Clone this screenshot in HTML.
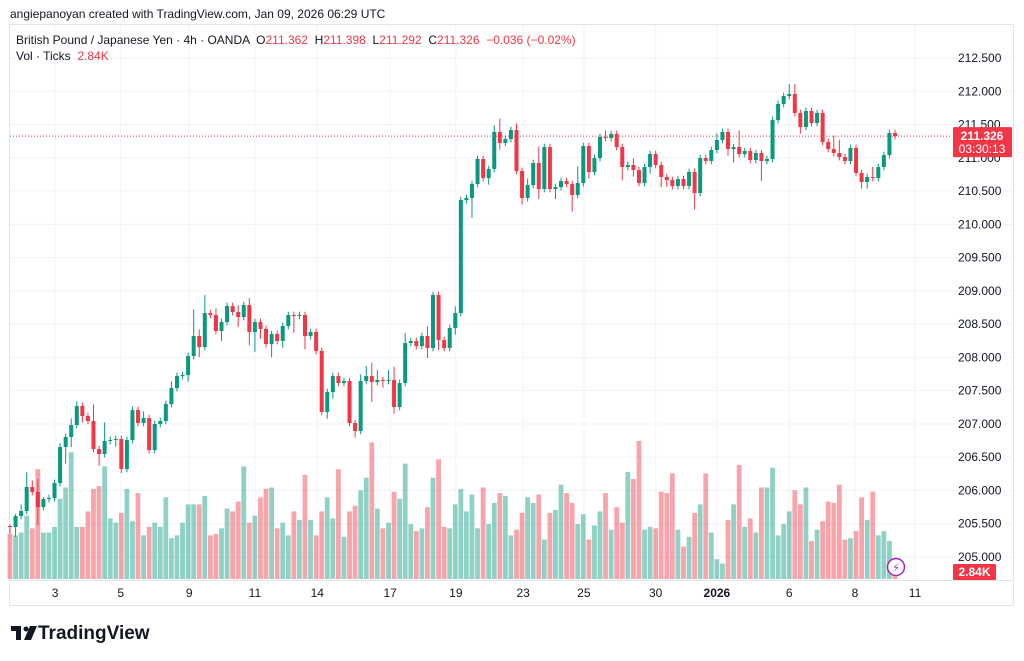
<!DOCTYPE html>
<html><head><meta charset="utf-8">
<style>
html,body{margin:0;padding:0;background:#fff;width:1024px;height:661px;overflow:hidden;font-family:"Liberation Sans",sans-serif;}
#wrap{position:relative;width:1024px;height:661px;}
.t{position:absolute;white-space:nowrap;font-size:12px;color:#131722;}
.r{color:#f23645;}
</style></head><body>
<div id="wrap">
<div class="t" style="left:10px;top:7px;font-size:12px;color:#131722;">angiepanoyan created with TradingView.com, Jan 09, 2026 06:29 UTC</div>
<svg id="chart" width="1024" height="661" style="position:absolute;left:0;top:0"></svg>
<div class="t" style="left:16px;top:33px;">British Pound / Japanese Yen · 4h · OANDA &nbsp;O<span class="r">211.362</span> &nbsp;H<span class="r">211.398</span> &nbsp;L<span class="r">211.292</span> &nbsp;C<span class="r">211.326</span> &nbsp;<span class="r">−0.036 (−0.02%)</span></div>
<div class="t" style="left:16px;top:49px;">Vol · Ticks &nbsp;<span class="r">2.84K</span></div>
<div class="t" style="left:38px;top:623px;font-size:19px;font-weight:bold;color:#131722;">TradingView</div>
<svg width="30" height="16" style="position:absolute;left:11px;top:626px">
<rect x="0" y="0" width="10" height="5" fill="#131722"/><rect x="5" y="0" width="5" height="14" fill="#131722"/>
<circle cx="15" cy="3" r="2.5" fill="#131722"/><polygon points="19,0 26,0 20,14 13,14" fill="#131722"/></svg>
</div>
<script>
const firstOpen = 205.466;
const closes = [205.451,205.616,205.691,206.052,205.977,205.751,205.871,205.886,206.112,206.653,
206.804,206.984,207.269,207.119,207.044,206.623,206.548,206.744,206.759,206.774,
206.323,206.759,207.209,207.014,207.089,206.608,206.999,207.044,207.299,207.540,
207.720,207.735,208.021,208.321,208.156,208.667,208.637,208.397,208.532,208.772,
208.682,208.607,208.788,208.382,208.532,208.427,208.201,208.352,208.247,208.472,
208.637,208.622,208.637,208.321,208.382,208.096,207.179,207.480,207.720,207.615,
207.645,207.014,206.894,207.645,207.720,207.630,207.660,207.645,207.660,207.254,
207.615,208.216,208.247,208.171,208.321,208.141,208.938,208.261,208.141,208.442,
208.667,210.366,210.396,210.606,210.982,210.696,210.832,211.388,211.223,211.283,
211.418,210.802,210.396,210.591,210.922,210.531,211.162,210.531,210.561,210.651,
210.606,210.441,210.621,211.177,210.787,210.997,211.313,211.298,211.358,211.162,
210.862,210.892,210.817,210.621,210.862,211.057,210.892,210.712,210.666,210.576,
210.681,210.576,210.787,210.471,210.997,210.952,211.117,211.268,211.388,211.132,
211.162,211.057,211.103,210.967,211.072,210.952,210.982,211.568,211.809,211.929,
211.959,211.674,211.463,211.704,211.523,211.674,211.238,211.132,211.072,211.012,
210.952,211.148,210.772,210.637,210.712,210.696,210.862,211.042,211.373,211.326];
const upWick = [.02,.03,.1,.22,.1,.2,.03,.05,.05,.06, .05,.1,.07,.05,.05,.25,.05,.28,.05,.05,
.05,.05,.05,.05,.1,.05,.05,.05,.05,.1, .05,.05,.05,.4,.1,.27,.05,.1,.05,.05,
.05,.1,.05,.1,.05,.05,.05,.05,.05,.05, .05,.05,.05,.05,.05,.05,.05,.05,.05,.05,
.05,.05,.05,.1,.15,.2,.15,.05,.15,.2, .05,.15,.05,.05,.05,.15,.05,.05,.05,.05,
.1,.05,.05,.05,.05,.05,.05,.1,.2,.05, .05,.1,.05,.1,.05,.25,.05,.05,.05,.05,
.05,.05,.25,.05,.05,.05,.05,.1,.05,.05, .05,.05,.1,.05,.05,.05,.05,.05,.05,.05,
.05,.05,.05,.05,.05,.05,.05,.1,.05,.05, .05,.25,.05,.05,.05,.05,.05,.05,.05,.05,
.15,.15,.05,.05,.05,.05,.05,.05,.2,.2, .05,.05,.05,.05,.05,.15,.05,.05,.05,.05];
const dnWick = [.1,.15,.05,.05,.05,.27,.05,.05,.05,.05, .25,.15,.05,.1,.05,.05,.18,.05,.05,.1,
.06,.05,.05,.05,.05,.05,.05,.05,.05,.05, .05,.05,.1,.05,.15,.05,.05,.05,.15,.05,
.05,.15,.05,.2,.3,.15,.05,.2,.05,.1, .05,.25,.05,.2,.05,.05,.05,.1,.1,.05,
.05,.05,.1,.05,.05,.3,.05,.1,.05,.1, .05,.05,.05,.05,.05,.15,.05,.15,.05,.05,
.1,.05,.05,.3,.05,.05,.1,.05,.1,.05, .05,.05,.1,.05,.05,.15,.05,.05,.15,.05,
.05,.25,.05,.05,.1,.05,.05,.05,.05,.05, .2,.05,.1,.05,.05,.1,.05,.15,.1,.05,
.05,.05,.05,.25,.05,.05,.05,.05,.05,.1, .2,.05,.05,.05,.05,.3,.05,.05,.05,.05,
.05,.05,.1,.05,.05,.05,.05,.05,.05,.05, .05,.05,.05,.1,.1,.05,.05,.05,.05,.05];
const volumes = [32,31,33,45,36,78,33,33,37,57, 65,90,37,37,48,64,66,80,43,40,
47,64,41,61,31,37,40,37,58,29, 31,40,53,53,53,59,31,32,36,50,
48,55,80,40,45,58,64,65,36,40, 31,48,42,74,42,31,48,58,43,78,
30,48,52,63,72,97,50,36,40,62, 57,82,39,34,36,51,72,85,37,36,
53,64,48,60,36,65,39,54,61,59, 31,35,47,58,54,60,28,47,49,67,
61,54,39,46,28,38,48,61,35,51, 40,76,71,98,35,37,36,62,61,75,
35,23,30,47,53,75,33,14,11,42, 53,81,37,43,33,65,65,79,31,39,
48,63,53,65,27,35,41,55,54,67, 28,29,34,58,42,62,31,34,27,2.84];
const priceTicks = [205,205.5,206,206.5,207,207.5,208,208.5,209,209.5,210,210.5,211,211.5,212,212.5];
const dateTickIdx = [8.1,19.9,32.2,44,55.2,68.3,80.1,92.2,103.1,116,127,140,151.8,162.6];
const dateTickLabels = ["3","5","9","11","14","17","19","23","25","30","2026","6","8","11"];
const lastPrice = 211.326;
const lastVolume = 2.84;

const NS="http://www.w3.org/2000/svg";
const svg=document.getElementById('chart');
function el(tag,attrs,parent){const e=document.createElementNS(NS,tag);for(const k in attrs)e.setAttribute(k,attrs[k]);(parent||svg).appendChild(e);return e;}
const yP=p=>557-(p-205)*66.53;
const xI=i=>10+5.566*i;
const yV=v=>579-v*1.408;
const GREEN="#089981",RED="#f23645";

const frame=el('rect',{x:9.5,y:24.5,width:1004,height:581,fill:'none',stroke:'#e0e3eb'});


priceTicks.forEach(p=>{
  const g=el('line',{x1:10,x2:1013,y1:yP(p),y2:yP(p),stroke:'#f0f3fa','stroke-width':1});
  
  
  const t=el('text',{x:958,y:yP(p)+4,'font-size':12,fill:'#131722','font-family':'Liberation Sans, sans-serif'});
  t.textContent=p.toFixed(3);
  
  
});
dateTickIdx.forEach((d,k)=>{
  const x=xI(d);
  const g=el('line',{x1:x,x2:x,y1:25,y2:580,stroke:'#f0f3fa','stroke-width':1});
  
  
  const t=el('text',{x:x,y:597,'font-size':12,fill:'#131722','text-anchor':'middle','font-weight':dateTickLabels[k]==='2026'?'bold':'normal','font-family':'Liberation Sans, sans-serif'});
  t.textContent=dateTickLabels[k];
  
  
});
const sep=el('line',{x1:10,x2:1013,y1:580.5,y2:580.5,stroke:'#e0e3eb'});


volumes.forEach((v,i)=>{
  const o=i===0?firstOpen:closes[i-1];
  const up=closes[i]>=o;
  const r=el('rect',{x:xI(i)-2.4,y:yV(v),width:4.8,height:579-yV(v),fill:up?'rgba(8,153,129,0.45)':'rgba(242,54,69,0.45)'});
  
  
});
closes.forEach((c,i)=>{
  const o=i===0?firstOpen:closes[i-1];
  const up=c>=o, col=up?GREEN:RED;
  const hi=Math.max(o,c)+upWick[i], lo=Math.min(o,c)-dnWick[i];
  const x=xI(i);
  const w=el('line',{x1:x,x2:x,y1:yP(hi),y2:yP(lo),stroke:col,'stroke-width':1});
  
  
  const top=yP(Math.max(o,c)),bot=yP(Math.min(o,c));
  const b=el('rect',{x:x-2,y:top,width:4,height:Math.max(1,bot-top),fill:col});
  
  
});
const ly=yP(lastPrice);
const pl=el('line',{x1:10,x2:952,y1:ly,y2:ly,stroke:RED,'stroke-width':1,'stroke-dasharray':'1 2'});


const lb=el('rect',{x:953,y:ly-9,width:59,height:30,fill:RED,rx:1});


const lt=el('text',{x:982,y:ly+4,'font-size':12,fill:'#fff','text-anchor':'middle','font-weight':'bold','font-family':'Liberation Sans, sans-serif'});
lt.textContent=lastPrice.toFixed(3);


const ct=el('text',{x:982,y:ly+17,'font-size':12,fill:'#fff','text-anchor':'middle','font-family':'Liberation Sans, sans-serif'});
ct.textContent='03:30:13';


const vb=el('rect',{x:953,y:564,width:43,height:16,fill:RED,rx:1});


const vt=el('text',{x:974.5,y:576,'font-size':12,fill:'#fff','text-anchor':'middle','font-weight':'bold','font-family':'Liberation Sans, sans-serif'});
vt.textContent=lastVolume.toFixed(2)+'K';


const ic=el('circle',{cx:896,cy:567,r:8.5,fill:'#fff',stroke:'#9c27b0','stroke-width':1.5});


const it=el('text',{x:896,y:571.5,'font-size':11,fill:'#9c27b0','text-anchor':'middle','font-family':'DejaVu Sans, sans-serif'});
it.textContent='⚡';


</script>
</body></html>
